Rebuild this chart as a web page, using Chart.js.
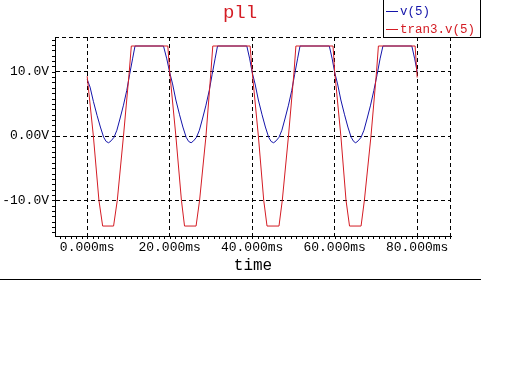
<!DOCTYPE html>
<html><head><meta charset="utf-8">
<script src="https://cdn.jsdelivr.net/npm/chart.js@4/dist/chart.umd.min.js"></script>
<style>html,body{margin:0;padding:0;background:#fff}canvas{display:block}</style>
</head><body>
<canvas id="c" width="512" height="384"></canvas>
<script>
const titleText = 'pll';
const xAxisTitle = 'time';
const seriesNames = ['v(5)', 'tran3.v(5)'];
const seriesColors = ['#1414aa', '#d41c24'];
const xTickValues = [0, 20, 40, 60, 80];
const xTickLabels = ['0.000ms', '20.000ms', '40.000ms', '60.000ms', '80.000ms'];
const yTickValues = [-10, 0, 10];
const yTickLabels = ['-10.0V', '0.00V', '10.0V'];

// v(5): time (ms) and volts
const v5Time = [
  0, 0.7, 1.5, 2.4, 3.2, 4.0, 4.6, 5.2, 5.8, 6.5, 7.2, 8.0, 8.8, 9.6, 10.3, 11.0, 11.6, 18.5, 19.3,
  20, 20.7, 21.5, 22.4, 23.2, 24.0, 24.6, 25.2, 25.8, 26.5, 27.2, 28.0, 28.8, 29.6, 30.3, 31.0, 31.6, 38.7, 39.4,
  40, 40.7, 41.5, 42.4, 43.2, 44.0, 44.6, 45.2, 45.8, 46.5, 47.2, 48.0, 48.8, 49.6, 50.3, 51.0, 51.6, 58.7, 59.4,
  60, 60.7, 61.5, 62.4, 63.2, 64.0, 64.6, 65.1, 65.7, 66.4, 67.1, 67.9, 68.7, 69.5, 70.3, 71.0, 71.7, 78.7, 79.4, 80
];
const v5Volts = [
  8.8, 7.6, 5.4, 3.2, 1.4, -0.2, -0.85, -1.05, -0.75, -0.2, 0.9, 2.8, 4.8, 7.1, 9.6, 12.0, 14.0, 14.0, 12.0,
  9.9, 8.1, 5.6, 3.3, 1.4, -0.2, -0.85, -1.05, -0.75, -0.2, 0.9, 2.8, 4.8, 7.1, 9.6, 12.0, 14.0, 14.0, 12.0,
  9.9, 8.1, 5.6, 3.3, 1.4, -0.2, -0.85, -1.05, -0.75, -0.2, 0.9, 2.8, 4.8, 7.1, 9.6, 12.0, 14.0, 14.0, 12.0,
  9.9, 8.1, 5.6, 3.3, 1.4, -0.2, -0.85, -1.05, -0.75, -0.2, 0.9, 2.8, 4.8, 7.1, 9.6, 12.0, 14.0, 14.0, 12.0, 10.0
];

// tran3.v(5): time (ms) and volts
const tran3Time = [
  0, 1.5, 2.85, 3.75, 6.4, 7.3, 8.8, 10.2, 10.7, 19.55,
  20, 21.5, 22.85, 23.6, 26.4, 27.25, 28.8, 30.0, 30.45, 39.5,
  40, 41.5, 42.8, 43.6, 46.5, 47.3, 48.8, 50.15, 50.6, 59.6,
  60, 61.5, 62.75, 63.6, 66.4, 67.2, 68.8, 70.15, 70.6, 79.5, 80
];
const tran3Volts = [
  9.3, 0, -10, -14, -14, -10, 0, 10, 14, 14,
  10, 0, -10, -14, -14, -10, 0, 10, 14, 14,
  10, 0, -10, -14, -14, -10, 0, 10, 14, 14,
  10, 0, -10, -14, -14, -10, 0, 10, 14, 14, 9.1
];

const MONO = '"Liberation Mono", "Courier New", monospace';

const decorPlugin = {
  id: 'decor',
  beforeDatasetsDraw(chart) {
    const {ctx, chartArea: a} = chart;
    ctx.save();
    ctx.strokeStyle = '#000';
    ctx.lineWidth = 1;
    ctx.setLineDash([4, 3]);
    ctx.beginPath();
    ctx.moveTo(a.left, a.top + 0.5); ctx.lineTo(a.right, a.top + 0.5);
    ctx.moveTo(a.right - 0.5, a.top); ctx.lineTo(a.right - 0.5, a.bottom);
    ctx.stroke();
    ctx.restore();
  },
  afterDraw(chart) {
    const {ctx, chartArea: a} = chart;
    const xs = chart.scales.x, ys = chart.scales.y;
    ctx.save();
    ctx.strokeStyle = '#000';
    ctx.lineWidth = 1;
    ctx.setLineDash([]);
    ctx.beginPath();
    const xStep = 20 / 15;
    for (let k = Math.ceil(xs.min / xStep); k * xStep <= xs.max + 1e-9; k++) {
      const px = Math.round(xs.getPixelForValue(k * xStep)) + 0.5;
      ctx.moveTo(px, a.bottom); ctx.lineTo(px, a.bottom + 3);
    }
    const yStep = 10 / 12;
    for (let k = Math.ceil(ys.min / yStep); k * yStep <= ys.max + 1e-9; k++) {
      const py = Math.round(ys.getPixelForValue(k * yStep)) + 0.5;
      ctx.moveTo(a.left - 3, py); ctx.lineTo(a.left, py);
    }
    ctx.moveTo(0, 279.5); ctx.lineTo(481, 279.5);
    ctx.stroke();

    ctx.fillStyle = seriesColors[1];
    ctx.font = '19px ' + MONO;
    ctx.textAlign = 'center';
    ctx.textBaseline = 'alphabetic';
    ctx.fillText(titleText, 240, 18);

    ctx.strokeStyle = '#000';
    ctx.strokeRect(383.5, -0.5, 97, 38);
    ctx.font = '12.5px ' + MONO;
    ctx.textAlign = 'left';
    ctx.textBaseline = 'middle';
    const ly = [11.5, 29.5];
    seriesNames.forEach((name, i) => {
      ctx.strokeStyle = seriesColors[i];
      ctx.beginPath();
      ctx.moveTo(386, ly[i]); ctx.lineTo(398, ly[i]);
      ctx.stroke();
      ctx.fillStyle = seriesColors[i];
      ctx.fillText(name, 400, ly[i]);
    });
    ctx.restore();
  }
};

const toPoints = (ts, vs) => ts.map((t, i) => ({x: t, y: vs[i]}));

new Chart(document.getElementById('c'), {
  type: 'line',
  data: {
    datasets: [
      {label: seriesNames[1], data: toPoints(tran3Time, tran3Volts), borderColor: seriesColors[1]},
      {label: seriesNames[0], data: toPoints(v5Time, v5Volts), borderColor: seriesColors[0]}
    ]
  },
  options: {
    responsive: false,
    animation: false,
    devicePixelRatio: 1,
    layout: {padding: {left: 0, top: 37, right: 61, bottom: 109}},
    plugins: {legend: {display: false}, title: {display: false}, tooltip: {enabled: false}},
    elements: {point: {radius: 0}, line: {borderWidth: 1, tension: 0, fill: false}},
    scales: {
      x: {
        type: 'linear', min: -7.8, max: 88.2,
        afterFit(s) { s.height = 39; },
        afterBuildTicks(s) { s.ticks = xTickValues.map(v => ({value: v})); },
        ticks: {
          padding: 4, autoSkip: false, maxRotation: 0, color: '#000',
          font: {family: MONO, size: 13},
          callback: (v) => xTickLabels[xTickValues.indexOf(v)]
        },
        grid: {color: '#000', lineWidth: 1, drawTicks: false},
        border: {display: true, color: '#000', width: 1, dash: [4, 3]},
        title: {display: true, text: xAxisTitle, color: '#000', font: {family: MONO, size: 16}, padding: 0}
      },
      y: {
        type: 'linear', min: -15.55, max: 15.4,
        afterFit(s) { s.width = 55; },
        afterBuildTicks(s) { s.ticks = yTickValues.map(v => ({value: v})); },
        ticks: {
          padding: 6, autoSkip: false, color: '#000',
          font: {family: MONO, size: 13},
          callback: (v) => yTickLabels[yTickValues.indexOf(v)]
        },
        grid: {color: '#000', lineWidth: 1, drawTicks: false},
        border: {display: true, color: '#000', width: 1, dash: [4, 3]}
      }
    }
  },
  plugins: [decorPlugin]
});
</script>
</body></html>
